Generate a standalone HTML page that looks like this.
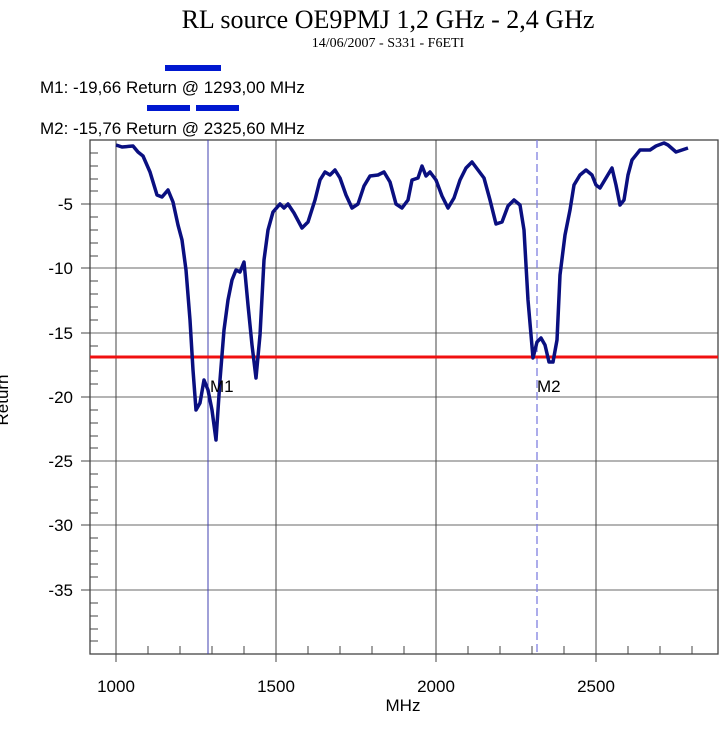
<!DOCTYPE html>
<html><head><style>body{margin:0;background:#fff}</style></head><body>
<svg width="725" height="725" xmlns="http://www.w3.org/2000/svg">
<rect width="725" height="725" fill="#fff"/>
<text x="388" y="28" font-family="Liberation Serif, serif" font-size="26" text-anchor="middle">RL source OE9PMJ 1,2 GHz - 2,4 GHz</text>
<text x="388" y="47" font-family="Liberation Serif, serif" font-size="14" text-anchor="middle">14/06/2007 - S331 - F6ETI</text>
<rect x="165" y="65" width="56" height="6" fill="#0018d0"/>
<rect x="147" y="105" width="43" height="6" fill="#0018d0"/>
<rect x="196" y="105" width="43" height="6" fill="#0018d0"/>
<g font-family="Liberation Sans, sans-serif" font-size="17" fill="#000">
<text x="40" y="93">M1: -19,66 Return @ 1293,00 MHz</text>
<text x="40" y="134">M2: -15,76 Return @ 2325,60 MHz</text>
</g>
<g stroke="#888" stroke-width="1.3">
<line x1="90" y1="204" x2="718" y2="204"/><line x1="90" y1="268" x2="718" y2="268"/>
<line x1="90" y1="333" x2="718" y2="333"/><line x1="90" y1="397" x2="718" y2="397"/>
<line x1="90" y1="461" x2="718" y2="461"/><line x1="90" y1="525" x2="718" y2="525"/>
<line x1="90" y1="590" x2="718" y2="590"/>
</g>
<g stroke="#444" stroke-width="1">
<line x1="116" y1="140" x2="116" y2="662"/><line x1="276" y1="140" x2="276" y2="662"/>
<line x1="436" y1="140" x2="436" y2="662"/><line x1="596" y1="140" x2="596" y2="662"/>
<line x1="81" y1="204" x2="90" y2="204"/><line x1="81" y1="268" x2="90" y2="268"/><line x1="81" y1="333" x2="90" y2="333"/><line x1="81" y1="397" x2="90" y2="397"/><line x1="81" y1="461" x2="90" y2="461"/><line x1="81" y1="525" x2="90" y2="525"/><line x1="81" y1="590" x2="90" y2="590"/>
</g>
<g stroke="#444" stroke-width="1" id="yt">
<path d="M90 153h8M90 166h8M90 179h8M90 191h8M90 217h8M90 230h8M90 243h8M90 256h8M90 281h8M90 294h8M90 307h8M90 320h8M90 346h8M90 358h8M90 371h8M90 384h8M90 410h8M90 423h8M90 436h8M90 448h8M90 474h8M90 487h8M90 500h8M90 513h8M90 538h8M90 551h8M90 564h8M90 577h8M90 603h8M90 616h8M90 629h8M90 641h8"/>
<path d="M148 654v-8M180 654v-8M212 654v-8M244 654v-8M308 654v-8M340 654v-8M372 654v-8M404 654v-8M468 654v-8M500 654v-8M532 654v-8M564 654v-8M628 654v-8M660 654v-8M692 654v-8"/>
</g>
<rect x="90" y="140" width="628" height="514" fill="none" stroke="#444" stroke-width="1.3"/>
<line x1="208" y1="140" x2="208" y2="654" stroke="#4040b0" stroke-width="1"/>
<line x1="537" y1="140" x2="537" y2="654" stroke="#8080e0" stroke-width="1.3" stroke-dasharray="8,4"/>
<line x1="90" y1="357" x2="718" y2="357" stroke="#f01010" stroke-width="3"/>
<polyline fill="none" stroke="#0a0f80" stroke-width="3.5" stroke-linejoin="round" points="116,145 122,147 133,146 138,152 143,156 150,172 157,195 162,197 168,190 173,202 178,225 182,240 186,270 190,320 193,370 196,410 200,403 204,380 208,390 212,410 216,440 220,380 224,330 228,300 232,280 236,270 240,272 244,262 248,305 252,345 256,378 260,335 264,260 268,230 273,212 280,204 284,208 288,204 294,213 302,228 308,222 315,200 320,180 325,172 330,175 335,170 340,178 346,195 352,208 358,204 364,186 370,176 378,175 384,172 390,182 396,204 402,208 408,200 412,180 418,178 422,166 426,176 430,172 436,180 442,196 448,208 454,198 460,180 466,168 472,162 478,170 484,178 490,200 496,224 502,222 508,206 514,200 520,205 524,230 528,300 533,358 537,342 541,338 545,345 549,362 553,362 557,340 560,275 565,235 570,210 574,185 580,175 586,170 592,175 596,185 600,188 606,178 612,168 616,185 620,205 624,200 628,175 632,160 640,150 650,150 656,146 664,143 668,145 676,152 682,150 688,148"/>
<g font-family="Liberation Sans, sans-serif" font-size="17" fill="#000">
<text x="210" y="392">M1</text>
<text x="537" y="392">M2</text>
<g text-anchor="end"><text x="73" y="210">-5</text><text x="73" y="274">-10</text><text x="73" y="339">-15</text><text x="73" y="403">-20</text><text x="73" y="467">-25</text><text x="73" y="531">-30</text><text x="73" y="596">-35</text></g>
<g text-anchor="middle"><text x="116" y="692">1000</text><text x="276" y="692">1500</text><text x="436" y="692">2000</text><text x="596" y="692">2500</text><text x="403" y="711">MHz</text></g>
<text transform="translate(8,400) rotate(-90)" text-anchor="middle">Return</text>
</g>
</svg>
</body></html>
